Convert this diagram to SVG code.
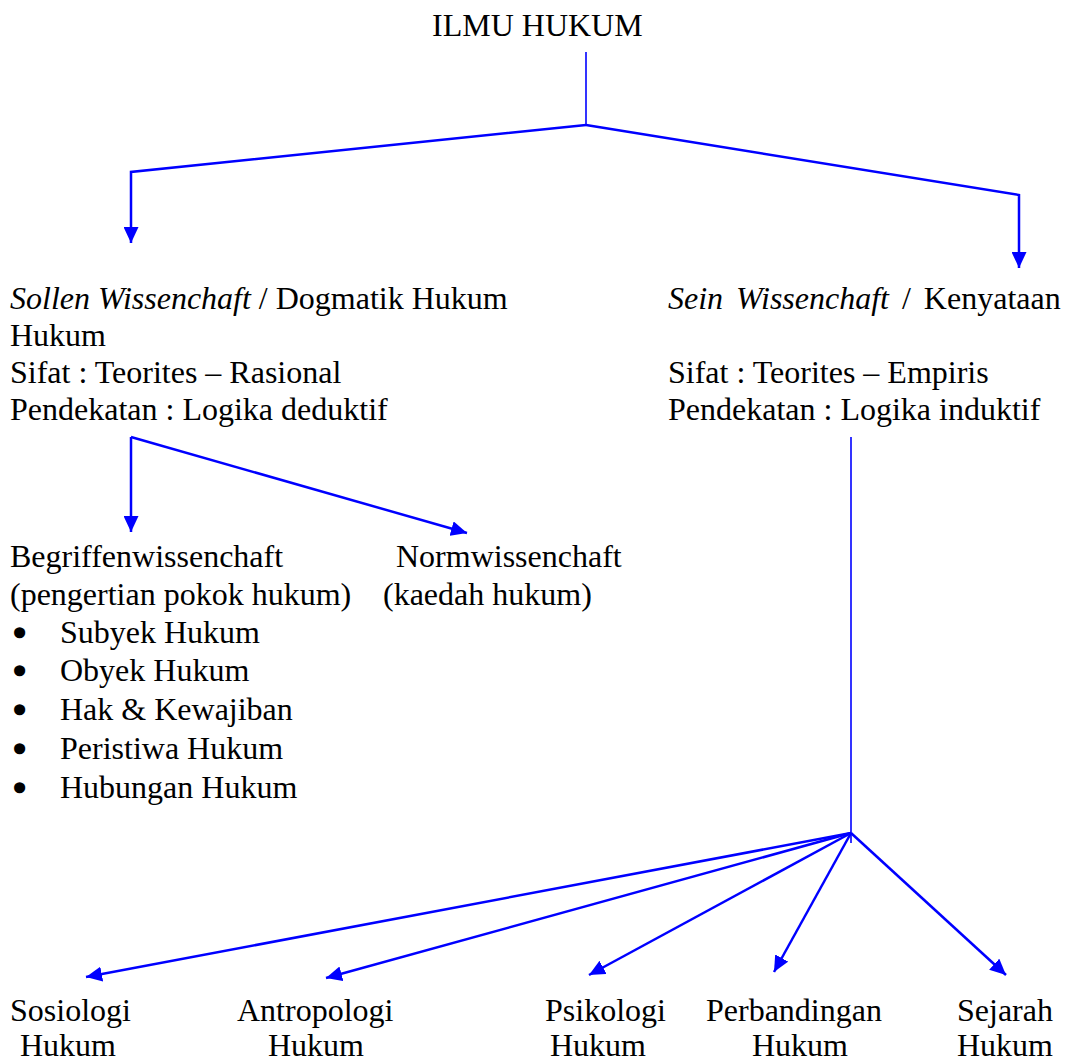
<svg xmlns="http://www.w3.org/2000/svg" width="1069" height="1061" viewBox="0 0 1069 1061">
<style>
text{font-family:"Liberation Serif","Times New Roman",serif;font-size:32px;fill:#000}
.it{font-style:italic}
.b{stroke:#000;stroke-width:3.5;stroke-linejoin:round}
.c{fill:none;stroke:#0000ff;stroke-width:2.5;stroke-linejoin:miter}
.t{fill:none;stroke:#0000ff;stroke-width:1.6}
</style>
<defs>
<marker id="ah" viewBox="0 0 16 15" refX="16" refY="7.5" markerWidth="16" markerHeight="15" markerUnits="userSpaceOnUse" orient="auto">
<path d="M0,0 L16,7.5 L0,15 Z" fill="#0000ff"/>
</marker>
</defs>
<rect width="1069" height="1061" fill="#fff"/>
<g id="connectors">
<line class="t" x1="586" y1="52" x2="586" y2="125"/>
<polyline class="c" points="586,125 131,172 131,243" marker-end="url(#ah)"/>
<polyline class="c" points="586,125 1019,195 1019,268" marker-end="url(#ah)"/>
<line class="c" x1="131" y1="437" x2="131" y2="532" marker-end="url(#ah)"/>
<line class="c" x1="131" y1="437" x2="467" y2="533" marker-end="url(#ah)"/>
<line class="t" x1="851" y1="437" x2="851" y2="843"/>
<line class="c" stroke-width="3" x1="851" y1="833" x2="86" y2="977" marker-end="url(#ah)"/>
<line class="c" stroke-width="3" x1="851" y1="833" x2="326" y2="978" marker-end="url(#ah)"/>
<line class="c" x1="851" y1="833" x2="589" y2="975" marker-end="url(#ah)"/>
<line class="c" x1="851" y1="833" x2="774" y2="972" marker-end="url(#ah)"/>
<line class="c" x1="851" y1="833" x2="1006" y2="975" marker-end="url(#ah)"/>
</g>
<g id="ilmu-hukum"><text x="432" y="36">ILMU HUKUM</text></g>
<g id="sollen">
<text x="10" y="309"><tspan class="it">Sollen Wissenchaft</tspan> / Dogmatik Hukum</text>
<text x="10" y="346">Hukum</text>
<text x="10" y="383">Sifat : Teorites – Rasional</text>
<text x="10" y="420">Pendekatan : Logika deduktif</text>
</g>
<g id="sein">
<text x="668" y="309" word-spacing="5"><tspan class="it">Sein Wissenchaft</tspan> / Kenyataan</text>
<text x="668" y="383">Sifat : Teorites – Empiris</text>
<text x="668" y="420">Pendekatan : Logika induktif</text>
</g>
<g id="begriffen">
<text x="10" y="567">Begriffenwissenchaft</text>
<text x="10" y="605">(pengertian pokok hukum)</text>
<text class="b" x="14" y="644">•</text><text x="60" y="643">Subyek Hukum</text>
<text class="b" x="14" y="682">•</text><text x="60" y="681">Obyek Hukum</text>
<text class="b" x="14" y="721">•</text><text x="60" y="720">Hak &amp; Kewajiban</text>
<text class="b" x="14" y="760">•</text><text x="60" y="759">Peristiwa Hukum</text>
<text class="b" x="14" y="799">•</text><text x="60" y="798">Hubungan Hukum</text>
</g>
<g id="norm">
<text x="396" y="567">Normwissenchaft</text>
<text x="383" y="605">(kaedah hukum)</text>
</g>
<g id="sosiologi"><text x="10" y="1021">Sosiologi</text><text x="20" y="1056">Hukum</text></g>
<g id="antropologi"><text x="237" y="1021">Antropologi</text><text x="268" y="1056">Hukum</text></g>
<g id="psikologi"><text x="545" y="1021">Psikologi</text><text x="550" y="1056">Hukum</text></g>
<g id="perbandingan"><text x="706" y="1021">Perbandingan</text><text x="752" y="1056">Hukum</text></g>
<g id="sejarah"><text x="957" y="1021">Sejarah</text><text x="957" y="1056">Hukum</text></g>
</svg>
